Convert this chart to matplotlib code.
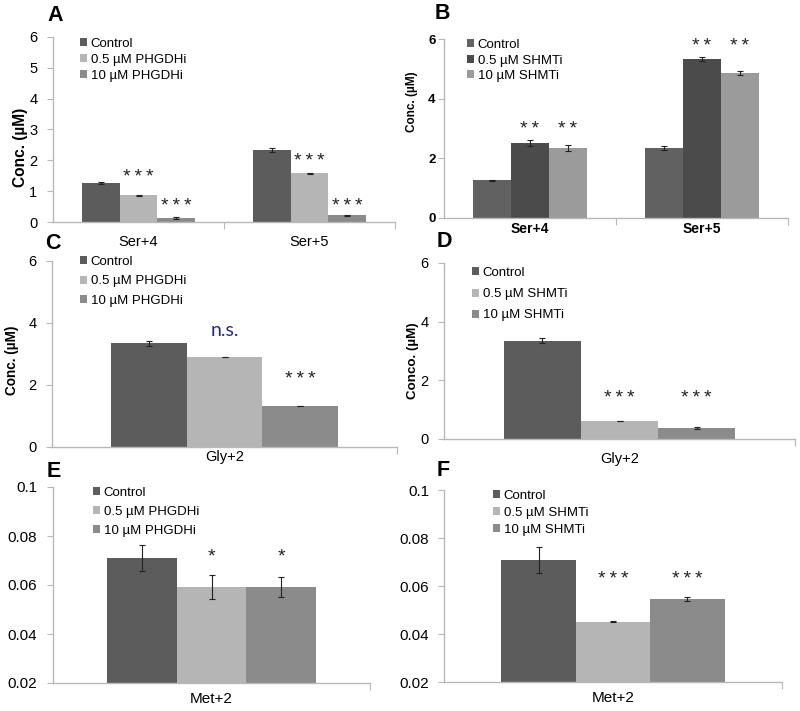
import matplotlib
matplotlib.use('Agg')
import matplotlib.pyplot as plt
from matplotlib.patches import Patch

plt.rcParams['font.family'] = ['Liberation Sans', 'DejaVu Sans']

W, H = 800, 711

# ---------------- data ----------------
ser_categories = ['Ser+4', 'Ser+5']
gly_categories = ['Gly+2']
met_categories = ['Met+2']

phgdh_series = ['Control', '0.5 µM PHGDHi', '10 µM PHGDHi']
shmt_series = ['Control', '0.5 µM SHMTi', '10 µM SHMTi']

S3 = '*\u2009*\u2009*'
S2 = '*\u2009*'

# Panel A (Ser, PHGDHi)
a_values = [[1.26, 2.33], [0.86, 1.58], [0.12, 0.22]]
a_errors = [[0.04, 0.06], [0.01, 0.02], [0.03, 0.01]]
a_stars = [(0, 1, S3, 1.65), (0, 2, S3, 0.71),
           (1, 1, S3, 2.17), (1, 2, S3, 0.71)]

# Panel B (Ser, SHMTi)
b_values = [[1.26, 2.34], [2.51, 5.33], [2.35, 4.86]]
b_errors = [[0.03, 0.06], [0.09, 0.06], [0.11, 0.08]]
b_stars = [(0, 1, S2, 3.18), (0, 2, S2, 3.18),
           (1, 1, S2, 5.97), (1, 2, S2, 5.97)]

# Panel C (Gly, PHGDHi)
c_values = [[3.35], [2.90], [1.32]]
c_errors = [[0.08], [0.01], [0.01]]
c_stars = [(0, 2, S3, 2.39)]
c_ns = [(0, 1, 'n.s.', 3.58)]

# Panel D (Gly, SHMTi)
d_values = [[3.35], [0.62], [0.38]]
d_errors = [[0.08], [0.01], [0.03]]
d_stars = [(0, 1, S3, 1.60), (0, 2, S3, 1.60)]

# Panel E (Met, PHGDHi)
e_values = [[0.0710], [0.0591], [0.0593]]
e_errors = [[0.0054], [0.0049], [0.0041]]
e_stars = [(0, 1, '*', 0.0743), (0, 2, '*', 0.0743)]

# Panel F (Met, SHMTi)
f_values = [[0.0709], [0.0452], [0.0547]]
f_errors = [[0.0053], [0.0003], [0.0008]]
f_stars = [(0, 1, S3, 0.0654), (0, 2, S3, 0.0654)]

phgdh_colors = ['#5c5c5c', '#b5b5b5', '#8b8b8b']
shmt_colors_b = ['#616161', '#4b4b4b', '#9b9b9b']
shmt_colors_d = ['#5c5c5c', '#b5b5b5', '#8b8b8b']

fig = plt.figure(figsize=(8, 7.11), dpi=100)

AXIS_GRAY = '#b8b8b8'
STAR_FS = 14


def px_rect(x0, x1, ytop, ybot):
    return [x0 / W, 1 - ybot / H, (x1 - x0) / W, (ybot - ytop) / H]


def panel(rect, cats, series, values, errors, colors, ylim, yticks,
          ytick_fs, ytick_bold, xtick_fs, xtick_bold, xpad_px, ypad_px,
          leg_xy, leg_spacing, stars, ns=None):
    ax = fig.add_axes(px_rect(*rect))
    n = len(series)
    bw = 0.22
    for i in range(n):
        xs = [c + (i - (n - 1) / 2) * bw for c in range(len(cats))]
        ax.bar(xs, values[i], bw, yerr=errors[i], color=colors[i],
               edgecolor='none', error_kw=dict(ecolor='#222222', elinewidth=0.8,
                                              capsize=2.5, capthick=0.8),
               zorder=2)
    ax.set_xlim(-0.5, len(cats) - 0.5)
    ax.set_ylim(*ylim)
    ax.set_yticks(yticks)
    ax.set_yticklabels(['%g' % t for t in yticks],
                       fontsize=ytick_fs,
                       fontweight='bold' if ytick_bold else 'normal')
    ax.set_xticks(range(len(cats)))
    ax.set_xticklabels(cats, fontsize=xtick_fs,
                       fontweight='bold' if xtick_bold else 'normal')
    ax.set_xticks([c + 0.5 for c in range(len(cats))], minor=True)
    ax.tick_params(axis='x', which='major', length=0, pad=xpad_px * 0.72)
    ax.tick_params(axis='x', which='minor', length=5, width=0.8,
                   color=AXIS_GRAY, direction='out')
    ax.tick_params(axis='y', length=4, width=0.8, color=AXIS_GRAY,
                   direction='out', pad=ypad_px * 0.72)
    for s in ['top', 'right']:
        ax.spines[s].set_visible(False)
    for s in ['left', 'bottom']:
        ax.spines[s].set_color(AXIS_GRAY)
        ax.spines[s].set_linewidth(1.0)
    handles = [Patch(facecolor=c, edgecolor='none') for c in colors]
    ax.legend(handles, series, loc='upper left',
              bbox_to_anchor=(leg_xy[0] / W, 1 - leg_xy[1] / H),
              bbox_transform=fig.transFigure, frameon=False,
              borderpad=0, borderaxespad=0, handlelength=0.55,
              handleheight=0.55, handletextpad=0.25,
              labelspacing=leg_spacing, fontsize=9.5)
    for (ci, si, txt, y) in stars:
        x = ci + (si - (n - 1) / 2) * bw
        ax.annotate(txt, (x, y), xytext=(0, -0.575 * STAR_FS),
                    textcoords='offset points',
                    ha='center', va='baseline', fontsize=STAR_FS, color='#222222')
    if ns:
        for (ci, si, txt, y) in ns:
            x = ci + (si - (n - 1) / 2) * bw
            ax.text(x, y, txt, ha='center', va='baseline', fontsize=14,
                    color='#1f2a8c', family=['Lato', 'DejaVu Sans'])
    return ax


panel((53, 395, 37, 222), ser_categories, phgdh_series, a_values, a_errors,
      phgdh_colors, (0, 6), [0, 1, 2, 3, 4, 5, 6], 10.5, False, 10.5, False,
      13, 10, (80, 38), 0.3, a_stars)
panel((444, 788, 39, 218), ser_categories, shmt_series, b_values, b_errors,
      shmt_colors_b, (0, 6), [0, 2, 4, 6], 9.5, True, 10, True,
      4, 3, (467, 39), 0.27, b_stars)
panel((52, 397, 261, 447), gly_categories, phgdh_series, c_values, c_errors,
      phgdh_colors, (0, 6), [0, 2, 4, 6], 10.5, False, 10.5, False,
      3, 10, (80, 256), 0.55, c_stars, c_ns)
panel((444, 795, 263, 439), gly_categories, shmt_series, d_values, d_errors,
      shmt_colors_d, (0, 6), [0, 2, 4, 6], 10.5, False, 10.5, False,
      13, 10, (472, 267), 0.7, d_stars)
panel((53, 370, 487, 683), met_categories, phgdh_series, e_values, e_errors,
      phgdh_colors, (0.02, 0.1), [0.02, 0.04, 0.06, 0.08, 0.1], 11, False,
      11, False, 9, 10, (93, 487), 0.52, e_stars)
panel((444, 782, 490, 682), met_categories, shmt_series, f_values, f_errors,
      shmt_colors_d, (0.02, 0.1), [0.02, 0.04, 0.06, 0.08, 0.1], 11, False,
      11, False, 9, 9, (493, 490), 0.38, f_stars)

# panel letters
for letter, x, y in [('A', 47, 5), ('B', 435, 3), ('C', 45, 233),
                     ('D', 437, 231), ('E', 47, 461), ('F', 437, 460)]:
    fig.text(x / W, 1 - y / H, letter, fontsize=15.5, fontweight='bold',
             ha='left', va='top')

# y labels
for txt, x, y, fs in [('Conc. (µM)', 21, 147, 11.2), ('Conc. (µM)', 412, 102, 8.5),
                      ('Conc. (µM)', 12, 360, 9.8), ('Conco. (µM)', 413, 361, 9.6)]:
    fig.text(x / W, 1 - y / H, txt, rotation=90, fontsize=fs, fontweight='bold',
             ha='center', va='center')

fig.savefig('out.png', dpi=100)
